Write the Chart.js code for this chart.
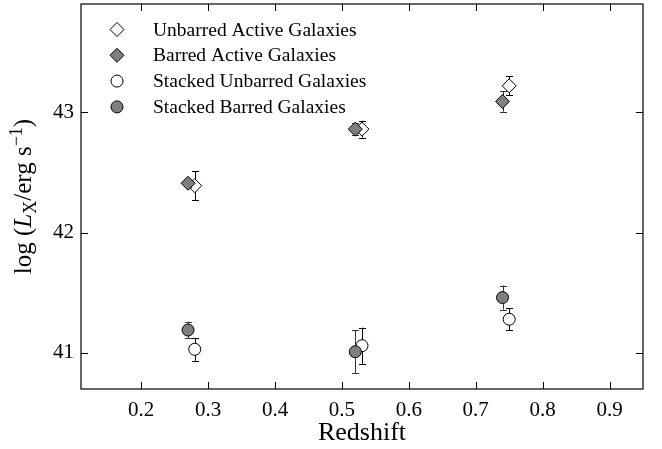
<!DOCTYPE html>
<html>
<head>
<meta charset="utf-8">
<script src="https://cdn.jsdelivr.net/npm/chart.js@4/dist/chart.umd.min.js"></script>
<style>
  html, body { margin: 0; padding: 0; background: #fff; }
  canvas { display: block; }
</style>
</head>
<body>
<canvas id="chart" width="662" height="449"></canvas>
<script>
// values
const seriesLabels = [
  "Unbarred Active Galaxies",
  "Barred Active Galaxies",
  "Stacked Unbarred Galaxies",
  "Stacked Barred Galaxies",
]
const unbarredRedshift = [0.28, 0.53, 0.75]
const barredRedshift = [0.27, 0.52, 0.74]

const unbarredActive = [42.39, 42.86, 43.22]
const unbarredActiveErr = [0.12, 0.07, 0.08]
const barredActive = [42.41, 42.86, 43.09]
const barredActiveErr = [0.03, 0.05, 0.085]
const stackedUnbarred = [41.03, 41.06, 41.28]
const stackedUnbarredErr = [0.095, 0.15, 0.09]
const stackedBarred = [41.19, 41.01, 41.46]
const stackedBarredErr = [0.07, 0.18, 0.1]

const xTicks = [0.2, 0.3, 0.4, 0.5, 0.6, 0.7, 0.8, 0.9]
const yTicks = [41, 42, 43]

const FONT = "'Liberation Serif', 'Times New Roman', serif"
const GRAY = "#7f7f7f"

function points(xs, ys) {
  return xs.map((x, i) => ({ x: x, y: ys[i] }))
}

const datasets = [
  { label: seriesLabels[0], data: points(unbarredRedshift, unbarredActive), errors: unbarredActiveErr,
    pointStyle: "rectRot", pointRadius: 7, backgroundColor: "#ffffff", errColor: "#000" },
  { label: seriesLabels[1], data: points(barredRedshift, barredActive), errors: barredActiveErr,
    pointStyle: "rectRot", pointRadius: 7, backgroundColor: GRAY, errColor: "#333" },
  { label: seriesLabels[2], data: points(unbarredRedshift, stackedUnbarred), errors: stackedUnbarredErr,
    pointStyle: "circle", pointRadius: 6, backgroundColor: "#ffffff", errColor: "#000" },
  { label: seriesLabels[3], data: points(barredRedshift, stackedBarred), errors: stackedBarredErr,
    pointStyle: "circle", pointRadius: 6, backgroundColor: GRAY, errColor: "#333" },
].map((ds, i, all) => ({
  ...ds,
  borderColor: "#000",
  borderWidth: 1,
  pointHoverRadius: ds.pointRadius,
  showLine: false,
  order: all.length - 1 - i, // later series on top, like matplotlib
}))

// vertical error bars, drawn just before each dataset's markers
const errorBars = {
  id: "errorBars",
  beforeDatasetDraw(chart, args) {
    const ds = chart.data.datasets[args.index]
    if (!ds.errors) return
    const ctx = chart.ctx
    const xs = chart.scales.x
    const ys = chart.scales.y
    ctx.save()
    ctx.strokeStyle = ds.errColor
    ctx.lineWidth = 1
    ds.data.forEach((p, i) => {
      const px = Math.round(xs.getPixelForValue(p.x)) + 0.5
      const top = ys.getPixelForValue(p.y + ds.errors[i])
      const bot = ys.getPixelForValue(p.y - ds.errors[i])
      ctx.beginPath()
      ctx.moveTo(px, top)
      ctx.lineTo(px, bot)
      ctx.moveTo(px - 3.5, Math.round(top) + 0.5)
      ctx.lineTo(px + 3.5, Math.round(top) + 0.5)
      ctx.moveTo(px - 3.5, Math.round(bot) + 0.5)
      ctx.lineTo(px + 3.5, Math.round(bot) + 0.5)
      ctx.stroke()
    })
    ctx.restore()
  },
}

// box frame with inward ticks on all sides, legend and the y title
const decorations = {
  id: "decorations",
  afterDraw(chart) {
    const ctx = chart.ctx
    const a = chart.chartArea
    const xs = chart.scales.x
    const ys = chart.scales.y
    const tick = 7

    ctx.save()
    ctx.strokeStyle = "#000"
    ctx.lineWidth = 1.2
    ctx.strokeRect(a.left, a.top, a.right - a.left, a.bottom - a.top)
    ctx.lineWidth = 1
    ctx.beginPath()
    xTicks.forEach(v => {
      const px = Math.round(xs.getPixelForValue(v)) + 0.5
      ctx.moveTo(px, a.bottom)
      ctx.lineTo(px, a.bottom - tick)
      ctx.moveTo(px, a.top)
      ctx.lineTo(px, a.top + tick)
    })
    yTicks.forEach(v => {
      const py = Math.round(ys.getPixelForValue(v)) + 0.5
      ctx.moveTo(a.left, py)
      ctx.lineTo(a.left + tick, py)
      ctx.moveTo(a.right, py)
      ctx.lineTo(a.right - tick, py)
    })
    ctx.stroke()

    // legend, inside the axes, no frame
    chart.data.datasets.forEach((ds, i) => {
      const mx = a.left + 36
      const my = a.top + 25.5 + i * 25.8
      ctx.fillStyle = ds.backgroundColor
      ctx.strokeStyle = "#000"
      ctx.lineWidth = 1
      Chart.helpers.drawPoint(ctx, {
        pointStyle: ds.pointStyle, radius: ds.pointRadius, rotation: 0, borderWidth: 1,
      }, mx, my)
      ctx.fillStyle = "#000"
      ctx.font = "19.5px " + FONT
      ctx.textBaseline = "middle"
      ctx.textAlign = "left"
      ctx.fillText(ds.label, a.left + 72, my + 1)
    })

    // y title: log (L_X / erg s^-1)
    const size = 25
    const parts = [
      { t: "log (", font: `${size}px ${FONT}`, dy: 0 },
      { t: "L", font: `italic ${size}px ${FONT}`, dy: 0 },
      { t: "X", font: `${Math.round(size * 0.7)}px ${FONT}`, dy: 5 },
      { t: "/erg s", font: `${size}px ${FONT}`, dy: 0 },
      { t: "\u22121", font: `${Math.round(size * 0.7)}px ${FONT}`, dy: -9 },
      { t: ")", font: `${size}px ${FONT}`, dy: 0 },
    ]
    let total = 0
    parts.forEach(p => {
      ctx.font = p.font
      p.w = ctx.measureText(p.t).width
      total += p.w
    })
    ctx.translate(31, (a.top + a.bottom) / 2)
    ctx.rotate(-Math.PI / 2)
    ctx.textBaseline = "alphabetic"
    ctx.textAlign = "left"
    ctx.fillStyle = "#000"
    let cx = -total / 2
    parts.forEach(p => {
      ctx.font = p.font
      ctx.fillText(p.t, cx, p.dy)
      cx += p.w
    })
    ctx.restore()
  },
}

function noPadding(scale) {
  scale.paddingTop = 0
  scale.paddingBottom = 0
  scale.paddingLeft = 0
  scale.paddingRight = 0
}

const config = {
  type: "scatter",
  data: { datasets: datasets },
  options: {
    responsive: false,
    animation: false,
    layout: {
      autoPadding: false,
      padding: { top: 4, right: 19, left: 0, bottom: 0 },
    },
    plugins: {
      legend: { display: false },
      tooltip: { enabled: false },
    },
    scales: {
      x: {
        type: "linear",
        min: 0.11,
        max: 0.95,
        afterBuildTicks: scale => {
          scale.ticks = xTicks.map(v => ({ value: v }))
        },
        afterFit: scale => {
          scale.height = 60
          noPadding(scale)
        },
        grid: { display: false, drawTicks: false },
        border: { display: false },
        ticks: {
          color: "#000",
          padding: 9,
          font: { family: FONT, size: 21 },
          callback: value => value.toFixed(1),
        },
        title: {
          display: true,
          text: "Redshift",
          color: "#000",
          font: { family: FONT, size: 26 },
          padding: { top: 0, bottom: 0 },
        },
      },
      y: {
        type: "linear",
        min: 40.7,
        max: 43.9,
        afterBuildTicks: scale => {
          scale.ticks = yTicks.map(v => ({ value: v }))
        },
        afterFit: scale => {
          scale.width = 81
          noPadding(scale)
        },
        grid: { display: false, drawTicks: false },
        border: { display: false },
        ticks: {
          color: "#000",
          padding: 7,
          font: { family: FONT, size: 21 },
        },
      },
    },
  },
  plugins: [errorBars, decorations],
}

new Chart(document.getElementById("chart"), config)
</script>
</body>
</html>
